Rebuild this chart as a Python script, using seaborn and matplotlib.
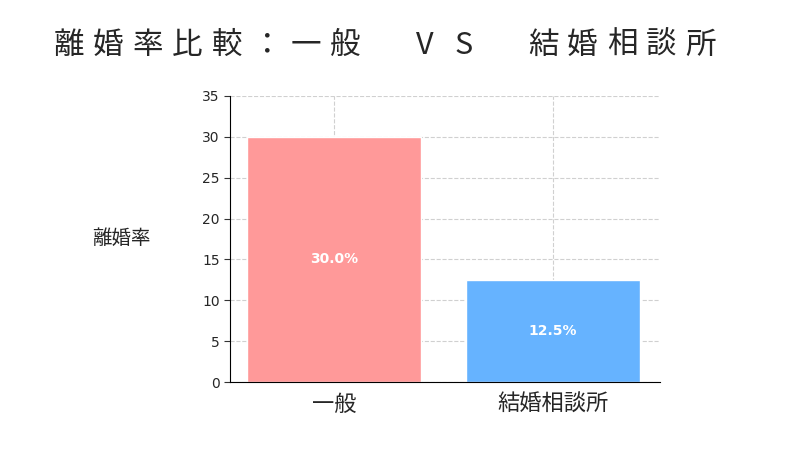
import matplotlib
matplotlib.use("Agg")
import matplotlib.pyplot as plt
import seaborn as sns
import pandas as pd

categories = ["一般", "結婚相談所"]
rates = [30.0, 12.5]
colors = ["#FF9999", "#66B3FF"]
yticks = [0, 5, 10, 15, 20, 25, 30, 35]
title = "離婚率比較：一般 VS 結婚相談所"

sns.set_style("whitegrid", {"grid.linestyle": "--", "grid.color": "#d0d0d0"})
plt.rcParams['font.family'] = ['Noto Sans CJK JP', 'DejaVu Sans']

df = pd.DataFrame({"cat": categories, "rate": rates})
fig = plt.figure(figsize=(8.1, 4.5), dpi=100)
ax = fig.add_axes([0.284, 0.151, 0.531, 0.636])
sns.barplot(data=df, x="cat", y="rate", hue="cat", palette=colors, width=0.795,
            legend=False, ax=ax, saturation=1)
ax.set_xlim(-0.475, 1.49)
ax.set_ylim(0, 35)
ax.set_yticks(yticks)
ax.xaxis.grid(True, linestyle="--", color="#d0d0d0")
ax.yaxis.grid(True, linestyle="--", color="#d0d0d0")
ax.tick_params(axis='y', labelsize=10, length=4, left=True, color="#333")
for t in ax.get_yticklabels():
    t.set_family("DejaVu Sans")
ax.tick_params(axis='x', labelsize=16, length=0, pad=8)
ax.set_xlabel("")
ax.set_ylabel("離婚率", rotation=0, fontsize=14, labelpad=58, va="center")
for s in ["top", "right"]:
    ax.spines[s].set_visible(False)
for s in ["left", "bottom"]:
    ax.spines[s].set_color("black")
ax.set_axisbelow(True)
for i, v in enumerate(rates):
    ax.text(i, v / 2, f"{v:.1f}%", ha="center", va="center", color="white",
            fontsize=10, fontweight="bold", family="DejaVu Sans")
step = 39.5 / 810
for i, ch in enumerate(title):
    fig.text((50 + 19 + i * 39.5) / 810, 0.9, ch, fontsize=22, ha="center", va="center")
fig.savefig("out.png", dpi=100)
